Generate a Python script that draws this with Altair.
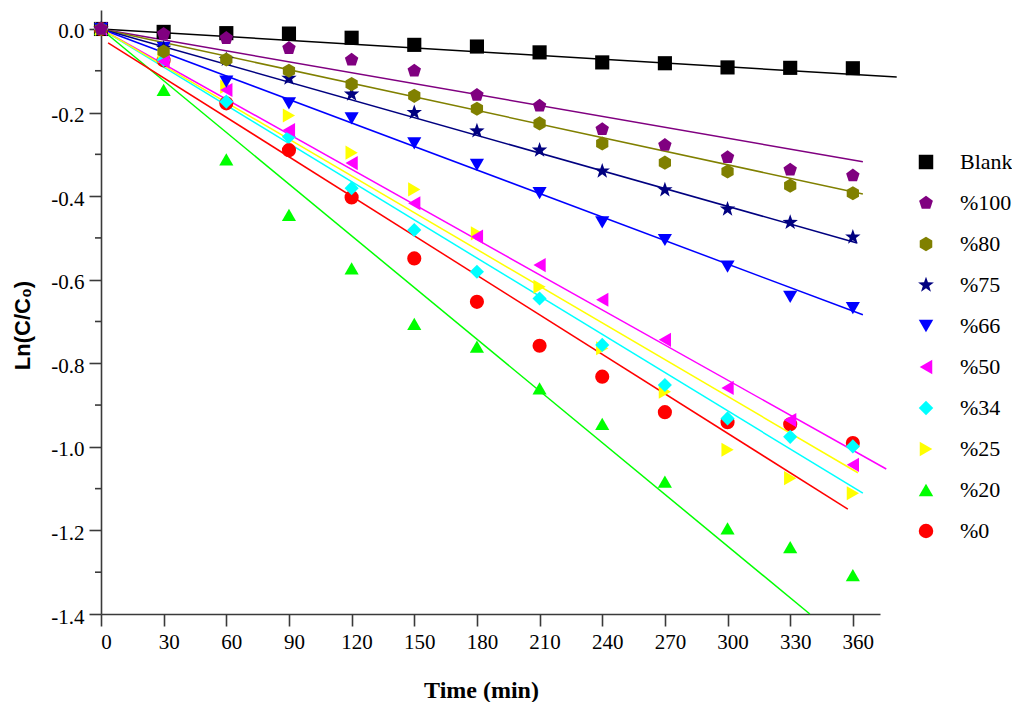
import altair as alt
import pandas as pd

# ---------------- data ----------------
time_min = [0, 30, 60, 90, 120, 150, 180, 210, 240, 270, 300, 330, 360]

series_names = ["Blank", "%100", "%80", "%75", "%66", "%50", "%34", "%25", "%20", "%0"]

blank = [0.0, -0.007, -0.010, -0.011, -0.021, -0.038, -0.042, -0.056, -0.080, -0.082, -0.092, -0.093, -0.094]
p100 = [0.0, -0.012, -0.022, -0.046, -0.074, -0.100, -0.158, -0.184, -0.240, -0.278, -0.307, -0.337, -0.351]
p80 = [0.0, -0.054, -0.073, -0.100, -0.132, -0.160, -0.191, -0.226, -0.274, -0.320, -0.341, -0.375, -0.393]
p75 = [0.0, -0.046, -0.073, -0.118, -0.156, -0.200, -0.244, -0.290, -0.340, -0.385, -0.431, -0.463, -0.498]
p66 = [0.0, -0.045, -0.126, -0.178, -0.214, -0.274, -0.325, -0.393, -0.463, -0.505, -0.569, -0.641, -0.668]
p50 = [0.0, -0.078, -0.146, -0.242, -0.321, -0.417, -0.497, -0.565, -0.648, -0.744, -0.859, -0.936, -1.043]
p34 = [0.0, -0.074, -0.174, -0.258, -0.381, -0.481, -0.581, -0.645, -0.756, -0.852, -0.932, -0.976, -0.999]
p25 = [0.0, -0.065, -0.138, -0.207, -0.296, -0.384, -0.489, -0.617, -0.764, -0.868, -1.007, -1.075, -1.111]
p20 = [0.0, -0.146, -0.312, -0.445, -0.573, -0.706, -0.760, -0.860, -0.945, -1.083, -1.195, -1.240, -1.307]
p0 = [0.0, -0.075, -0.178, -0.290, -0.403, -0.549, -0.653, -0.758, -0.832, -0.917, -0.941, -0.946, -0.991]

# fitted lines: start / end points
fit_x0 = [0.0, 0.0, 0.0, 0.0, 0.0, 0.0, 0.0, 0.0, 0.0, 3.4]
fit_y0 = [0.0, 0.0, 0.0, 0.0, 0.0, 0.0, 0.0, 0.0, 0.0, -0.033]
fit_x1 = [381.0, 364.8, 364.8, 362.0, 364.8, 376.0, 364.8, 362.4, 339.4, 357.6]
fit_y1 = [-0.115, -0.318, -0.395, -0.512, -0.684, -1.053, -1.111, -1.062, -1.400, -1.149]

colors = ["#000000", "#800080", "#808000", "#000080", "#0000FF",
          "#FF00FF", "#00FFFF", "#FFFF00", "#00FF00", "#FF0000"]

pentagon = "M0,-1L0.951,-0.309L0.588,0.809L-0.588,0.809L-0.951,-0.309Z"
hexagon = "M0,-1L0.866,-0.5L0.866,0.5L0,1L-0.866,0.5L-0.866,-0.5Z"
star = ("M0,-1.15L0.27,-0.37L1.09,-0.36L0.44,0.14L0.68,0.93L0,0.46"
        "L-0.68,0.93L-0.44,0.14L-1.09,-0.36L-0.27,-0.37Z")
shapes = ["square", pentagon, hexagon, star, "triangle-down",
          "triangle-left", "diamond", "triangle-right", "triangle-up", "circle"]

y_ticks = [0.0, -0.2, -0.4, -0.6, -0.8, -1.0, -1.2, -1.4]
y_minor = [-0.1, -0.3, -0.5, -0.7, -0.9, -1.1, -1.3]
x_ticks = [0, 30, 60, 90, 120, 150, 180, 210, 240, 270, 300, 330, 360]

values = {"Blank": blank, "%100": p100, "%80": p80, "%75": p75, "%66": p66,
          "%50": p50, "%34": p34, "%25": p25, "%20": p20, "%0": p0}
draw_order = ["Blank", "%0", "%20", "%25", "%34", "%50", "%66", "%75", "%80", "%100"]

rows = []
for name in draw_order:
    for t, v in zip(time_min, values[name]):
        rows.append({"series": name, "t": t, "v": v})
pts = pd.DataFrame(rows)

line_rows = []
for i, name in enumerate(series_names):
    line_rows.append({"fit": name, "t": fit_x0[i], "v": fit_y0[i], "k": 0})
    line_rows.append({"fit": name, "t": fit_x1[i], "v": fit_y1[i], "k": 1})
lines = pd.DataFrame(line_rows)

minor = pd.DataFrame({"v": y_minor})

SERIF = "Times New Roman"
SANS = "Arial"
AX = "#3a3a3a"
Y_TITLE = "Ln(C/C₀)"

x_scale = alt.Scale(domain=[0, 373], nice=False, zero=False)
y_scale = alt.Scale(domain=[-1.4, 0.0454], nice=False, zero=False)

x_axis = alt.Axis(
    values=x_ticks, title="Time (min)",
    titleX=380, titleY=76, titleBaseline="middle", titleAlign="center", titleAnchor="start",
)
y_axis = alt.Axis(
    values=y_ticks, title=Y_TITLE,
    labelExpr="datum.value == 0 ? '0.0' : '-' + format(abs(datum.value), '.1f')",
    titleFont=SANS, titleFontSize=22,
    titleX=-79, titleY=315, titleAngle=-90, titleBaseline="middle", titleAlign="center",
    titleAnchor="start",
)

# one data table holds all fitted lines; one layer per line for its own colour
base_lines = alt.Chart(lines)
line_layers = []
for i, name in enumerate(series_names):
    if i == 0:
        xe = alt.X("t:Q", scale=x_scale, axis=x_axis)
        ye = alt.Y("v:Q", scale=y_scale, axis=y_axis)
    else:
        xe = alt.X("t:Q", scale=x_scale, title="Time (min)")
        ye = alt.Y("v:Q", scale=y_scale, title=Y_TITLE)
    line_layers.append(
        base_lines.mark_line(strokeWidth=1.5, clip=False, color=colors[i])
        .encode(x=xe, y=ye, order="k:Q")
        .transform_filter(alt.datum.fit == name)
    )

minor_layer = alt.Chart(minor).mark_rule(color=AX, strokeWidth=1.6, clip=False).encode(
    y=alt.Y("v:Q", scale=y_scale, title=Y_TITLE),
    x=alt.value(-6),
    x2=alt.value(0),
)

legend = alt.Legend(
    title=None, orient="none", legendX=814, legendY=141,
    symbolSize=210, symbolStrokeWidth=0, rowPadding=19, labelOffset=23,
    padding=0, symbolOpacity=1,
)

point_layer = alt.Chart(pts).mark_point(filled=True, opacity=1, size=200).encode(
    x=alt.X("t:Q", scale=x_scale, title="Time (min)"),
    y=alt.Y("v:Q", scale=y_scale, title=Y_TITLE),
    color=alt.Color("series:N", scale=alt.Scale(domain=series_names, range=colors), legend=legend),
    shape=alt.Shape("series:N", scale=alt.Scale(domain=series_names, range=shapes), legend=legend),
)

chart = alt.layer(*line_layers, minor_layer, point_layer).properties(
    width=779, height=604,
    background="white",
    autosize=alt.AutoSizeParams(type="none"),
    padding={"left": 93, "top": 2, "right": 132, "bottom": 88},
).configure(
    font=SERIF
).configure_axis(
    grid=False, tickSize=12, tickColor=AX, tickWidth=1.6, domainColor=AX, domainWidth=1.6,
    labelFont=SERIF, labelFontSize=21, labelColor="black", labelPadding=5,
    labelFlush=False, titleFont=SERIF, titleFontSize=24, titleFontWeight="bold",
    titleColor="black",
).configure_axisX(
    labelOffset=5
).configure_axisY(
    labelOffset=3
).configure_legend(
    labelFont=SERIF, labelFontSize=22, labelColor="black"
).configure_view(stroke=None)

chart.save("out.html", embed_options={"renderer": "svg", "actions": False})
